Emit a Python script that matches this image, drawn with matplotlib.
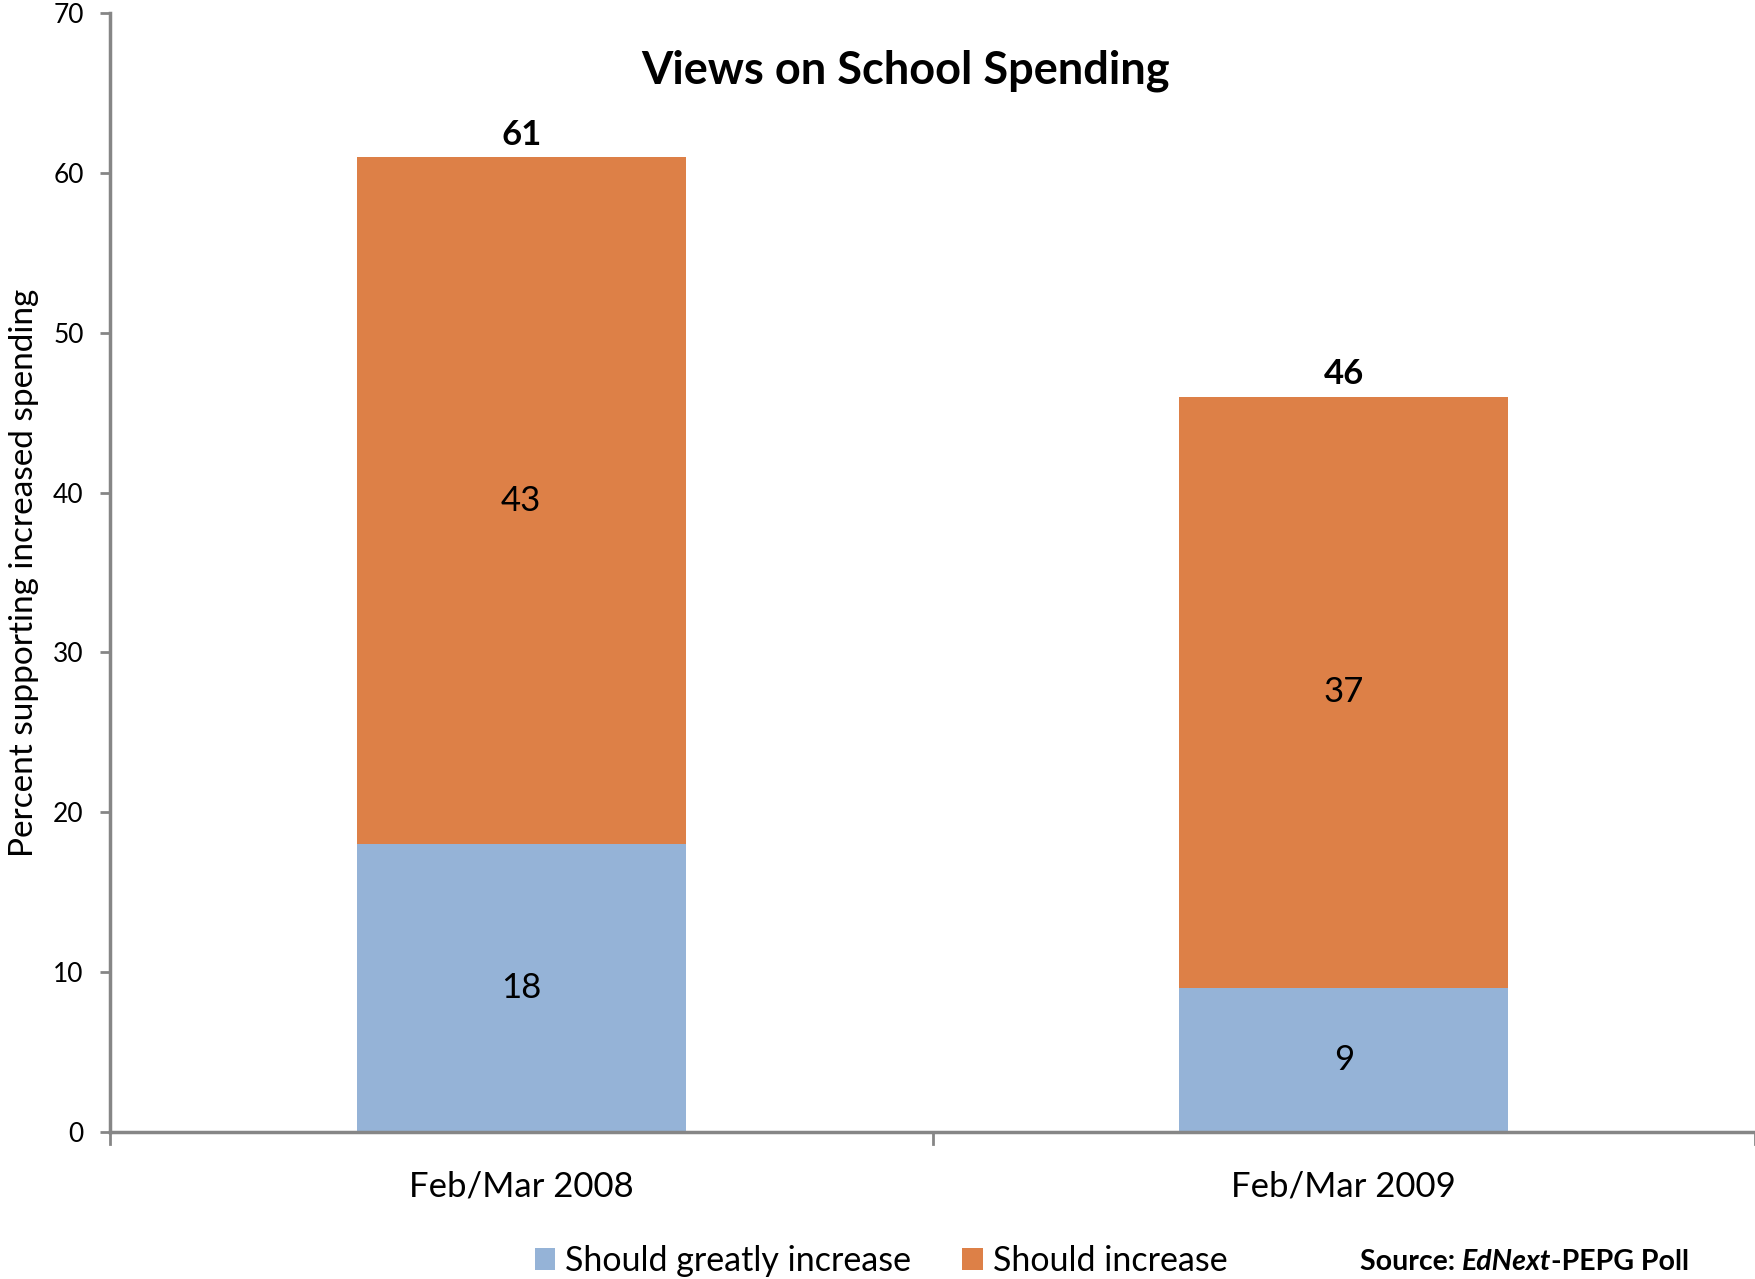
import matplotlib
matplotlib.use("Agg")
import matplotlib.pyplot as plt
import numpy as np

plt.rcParams['font.family'] = ['Lato', 'DejaVu Sans']

# survey waves and the two answer groups
waves = ['Feb/Mar 2008', 'Feb/Mar 2009']
greatly_increase = [18, 9]
increase = [43, 37]
totals = [61, 46]
series_names = ['Should greatly increase', 'Should increase']

blue = '#95b3d7'
orange = '#dd8047'
axis_grey = '#868686'

fig = plt.figure(figsize=(17.55, 12.79), dpi=100)
ax = fig.add_axes([0.0627, 0.1153, 0.9373, 0.8742])

x = np.arange(len(waves))
b1 = ax.bar(x, greatly_increase, width=0.4, color=blue, label=series_names[0])
b2 = ax.bar(x, increase, width=0.4, bottom=greatly_increase, color=orange, label=series_names[1])

# segment values in the middle of each piece
for i in range(len(waves)):
    ax.text(x[i], greatly_increase[i] / 2, str(greatly_increase[i]), ha='center', va='center', fontsize=25)
    ax.text(x[i], greatly_increase[i] + increase[i] / 2, str(increase[i]), ha='center', va='center', fontsize=25)
    ax.text(x[i], totals[i] + 1.4, str(totals[i]), ha='center', va='center', fontsize=25, fontweight='bold')

ax.set_xlim(-0.5, 1.5)
ax.set_ylim(0, 70)
ax.set_yticks(range(0, 71, 10))
ax.tick_params(axis='y', labelsize=19, length=7, width=2, color=axis_grey, pad=12)

ax.set_xticks(x)
ax.set_xticklabels(waves, fontsize=25)
ax.tick_params(axis='x', length=0, pad=28)
# boundary ticks between categories
for xb in [-0.5, 0.5, 1.5]:
    ax.plot([xb, xb], [0, -0.8], color=axis_grey, lw=2, clip_on=False)

for side in ['top', 'right']:
    ax.spines[side].set_visible(False)
for side in ['left', 'bottom']:
    ax.spines[side].set_color(axis_grey)
    ax.spines[side].set_linewidth(2.5)

ax.set_ylabel('Percent supporting increased spending', fontsize=24, labelpad=10)

fig.text(0.516, 0.945, 'Views on School Spending', ha='center', va='center', fontsize=32.5, fontweight='bold')

fig.legend(handles=[b1, b2], loc='center', bbox_to_anchor=(0.502, 0.014), ncol=2, frameon=False,
           fontsize=24.5, handlelength=0.6, handleheight=0.6, handletextpad=0.3, columnspacing=1.5)

# source line with the italic publication name
fig.canvas.draw()
renderer = fig.canvas.get_renderer()
xpos = 0.775
for piece, style in [('Source: ', 'normal'), ('EdNext', 'italic'), ('-PEPG Poll', 'normal')]:
    t = fig.text(xpos, 0.003, piece, ha='left', va='bottom', fontsize=20.5, fontweight='bold', fontstyle=style)
    bb = t.get_window_extent(renderer=renderer)
    xpos += bb.width / fig.bbox.width

fig.savefig('out.png', dpi=100)
